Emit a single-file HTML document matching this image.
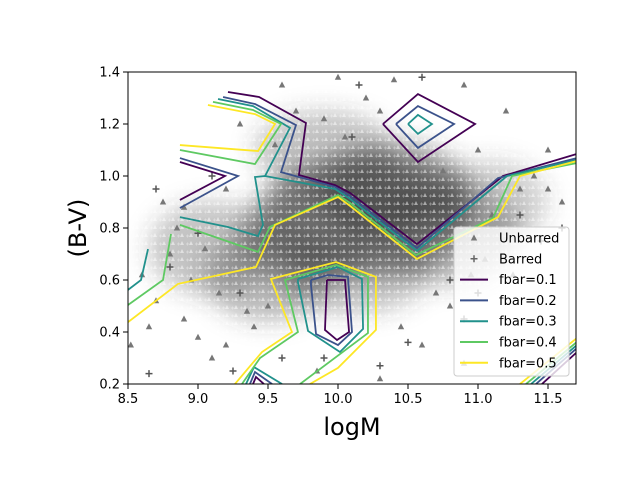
<!DOCTYPE html>
<html><head><meta charset="utf-8"><style>
body{margin:0;background:#fff;}
svg{display:block;font-family:"DejaVu Sans","Liberation Sans",sans-serif;}
</style></head><body>
<svg id="chart" width="640" height="480" viewBox="0 0 640 480" xmlns="http://www.w3.org/2000/svg">
<defs>
<filter id="blur" x="-50%" y="-50%" width="200%" height="200%"><feGaussianBlur stdDeviation="12"/></filter>
<clipPath id="plotclip"><rect x="128" y="72" width="448" height="312"/></clipPath>
<pattern id="speck" width="9" height="8" patternUnits="userSpaceOnUse">
<rect width="9" height="8" fill="#fff" fill-opacity="0"/>
<polygon points="2,1 0,5 4,5" fill="#fff" fill-opacity="0.5"/>
<path d="M6,4H9M7.5,2.5V5.5" stroke="#fff" stroke-opacity="0.35"/>
</pattern>
</defs>
<rect width="640" height="480" fill="#fff"/>
<g id="density" clip-path="url(#plotclip)" filter="url(#blur)"></g>
<rect x="128" y="72" width="448" height="312" fill="url(#speck)"/>
<g id="points" clip-path="url(#plotclip)"></g>
<g id="contours" clip-path="url(#plotclip)"></g>
<rect x="128" y="72" width="448" height="312" fill="none" stroke="#000" stroke-width="1"/>
<g id="axes"></g>
<text x="352" y="435" font-size="24" text-anchor="middle">logM</text>
<text transform="translate(86,228) rotate(-90)" font-size="24" text-anchor="middle">(B-V)</text>
<g id="legend"></g>
</svg>
<script>
const xTicks=[8.5,9.0,9.5,10.0,10.5,11.0,11.5];
const yTicks=[0.2,0.4,0.6,0.8,1.0,1.2,1.4];
const xTickLabels=["8.5","9.0","9.5","10.0","10.5","11.0","11.5"];
const yTickLabels=["0.2","0.4","0.6","0.8","1.0","1.2","1.4"];
const levels=["fbar=0.1","fbar=0.2","fbar=0.3","fbar=0.4","fbar=0.5"];
const levelColors=["#440154","#3b528b","#21918c","#5ec962","#fde725"];
const c1=[
[[9.214,1.323],[9.436,1.304],[9.771,1.204],[9.721,1.004],[9.979,0.965],[10.086,0.935],[10.564,0.738],[11.179,1.0],[11.707,1.085]],
[[8.871,1.054],[9.193,1.0],[8.871,0.908]],
[[9.921,0.6],[10.05,0.6],[10.079,0.4],[9.993,0.369],[9.907,0.408],[9.921,0.6]],
[[10.321,1.2],[10.571,1.315],[10.979,1.2],[10.571,1.054],[10.321,1.2]],
[[9.393,0.2],[9.414,0.227],[9.471,0.2]],
[[11.457,0.2],[11.707,0.323]]];
const c2=[
[[9.179,1.304],[9.407,1.277],[9.7,1.196],[9.593,1.015],[9.979,0.958],[10.086,0.923],[10.564,0.723],[11.143,0.992],[11.707,1.069]],
[[8.871,1.069],[9.286,1.0],[8.871,0.877]],
[[9.807,0.6],[9.929,0.619],[10.071,0.612],[10.1,0.4],[10.0,0.35],[9.843,0.392],[9.807,0.581],[9.807,0.6]],
[[10.414,1.2],[10.571,1.269],[10.829,1.2],[10.571,1.108],[10.414,1.2]],
[[9.371,0.2],[9.407,0.246],[9.529,0.2]],
[[11.414,0.2],[11.707,0.338]]];
const c3=[
[[9.143,1.296],[9.393,1.269],[9.657,1.185],[9.479,1.0]],
[[8.871,0.842],[9.214,0.804],[9.429,0.769],[9.464,0.812],[9.407,0.996],[9.479,1.0],[9.979,0.95],[10.086,0.912],[10.564,0.712],[11.207,1.0],[11.707,1.062]],
[[8.5,0.562],[8.593,0.6],[8.643,0.719]],
[[9.714,0.604],[10.0,0.65],[10.171,0.604],[10.179,0.412],[10.014,0.323],[9.786,0.404],[9.714,0.592],[9.714,0.604]],
[[10.5,1.2],[10.571,1.235],[10.671,1.2],[10.571,1.162],[10.5,1.2]],
[[9.343,0.2],[9.4,0.265],[9.6,0.2]],
[[11.379,0.2],[11.707,0.35]]];
const c4=[
[[8.871,1.1],[9.407,1.046],[9.593,1.2],[9.393,1.254],[9.107,1.285]],
[[8.871,0.812],[9.429,0.708],[9.514,0.804],[10.0,0.927],[10.086,0.896],[10.557,0.696],[11.107,0.838],[11.243,1.0],[11.707,1.05]],
[[8.5,0.504],[8.75,0.6],[8.807,0.777]],
[[9.314,0.2],[9.443,0.3],[9.714,0.4],[9.621,0.6],[9.986,0.658],[10.214,0.612],[10.214,0.396],[9.729,0.2]],
[[11.343,0.2],[11.707,0.362]]];
const c5=[
[[8.871,1.119],[9.429,1.096],[9.55,1.2],[9.407,1.238],[9.071,1.273]],
[[8.5,0.438],[8.857,0.585],[9.414,0.65],[9.55,0.812],[10.0,0.919],[10.086,0.885],[10.564,0.681],[11.143,0.842],[11.3,1.0],[11.707,1.058]],
[[9.264,0.2],[9.457,0.323],[9.671,0.4],[9.521,0.604],[9.986,0.669],[10.271,0.612],[10.271,0.408],[10.0,0.262],[9.8,0.2]],
[[11.3,0.2],[11.707,0.377]]];
const unbarredX=[8.52,8.6,8.7,8.75,8.8,8.9,9.0,9.1,9.2,9.3,9.6,9.7,10.0,10.2,10.4,10.9,11.2,11.5,11.3,11.6,11.4,11.0,10.8,10.6,10.9,9.2,8.65,9.85,10.3,11.1,11.5,8.95,9.05,8.85,9.4,9.5,10.7,11.25,9.9,10.05,10.3,9.55,10.75,11.05,9.35,8.9,9.15,10.45,10.95];
const unbarredY=[0.35,0.62,0.52,0.9,0.7,0.45,0.38,0.3,0.95,1.2,1.35,1.25,1.38,1.3,1.37,1.35,1.25,1.1,0.95,0.9,1.0,1.1,0.5,0.35,0.28,0.35,0.42,0.25,0.22,0.85,0.95,0.6,0.72,0.8,0.42,0.5,0.55,0.62,1.22,1.15,1.25,1.12,1.02,0.68,0.48,0.88,0.55,0.42,0.62];
const barredX=[8.65,8.7,9.25,9.9,10.3,10.5,11.0,11.3,11.6,9.1,8.8,10.6,11.45,10.15,9.6,10.9,9.3,10.1,10.8,9.0];
const barredY=[0.24,0.95,0.25,0.3,0.27,0.36,0.55,0.85,0.8,1.0,0.65,1.38,0.75,1.35,0.3,0.45,0.55,1.15,0.6,0.78];
// density blobs of the crowded scatter region: center x, center y, spread x, spread y, opacity
const blobX=[10.2,9.8,10.4,9.5,10.8,9.1,10.1,11.1,9.9,10.3];
const blobY=[0.85,0.78,0.95,0.62,0.78,0.72,0.62,0.9,1.1,0.9];
const blobW=[0.75,0.5,0.55,0.45,0.5,0.45,0.55,0.4,0.5,0.35];
const blobH=[0.24,0.2,0.18,0.18,0.2,0.18,0.15,0.16,0.15,0.12];
const blobA=[0.55,0.4,0.45,0.35,0.35,0.3,0.3,0.25,0.3,0.4];

const NS="http://www.w3.org/2000/svg";
const X=v=>128+(v-8.5)*140;
const Y=v=>384-(v-0.2)*260;
function mk(tag,parent){const e=document.createElementNS(NS,tag);parent.appendChild(e);return e;}

const dens=document.getElementById('density');
blobX.forEach((bx,i)=>{
  const e=mk('ellipse',dens);
  
  
  e.setAttribute('cx',X(bx));e.setAttribute('cy',Y(blobY[i]));
  e.setAttribute('rx',blobW[i]*140);e.setAttribute('ry',blobH[i]*260);
  e.setAttribute('fill','#3a3a3a');e.setAttribute('fill-opacity',blobA[i]);
});

const pts=document.getElementById('points');
unbarredX.forEach((px,i)=>{
  const x=X(px),y=Y(unbarredY[i]);
  const t=mk('polygon',pts);
  
  
  t.setAttribute('points',`${x},${y-3.5} ${x-3.2},${y+2.5} ${x+3.2},${y+2.5}`);
  t.setAttribute('fill','#777');
});
barredX.forEach((px,i)=>{
  const x=X(px),y=Y(barredY[i]);
  const p=mk('path',pts);
  
  
  p.setAttribute('d',`M${x-3.5},${y}H${x+3.5}M${x},${y-3.5}V${y+3.5}`);
  p.setAttribute('stroke','#555');p.setAttribute('stroke-width','1.5');
});

const cg=document.getElementById('contours');
[c1,c2,c3,c4,c5].forEach((segs,li)=>{
  segs.forEach(seg=>{
    const pl=mk('polyline',cg);
    
    
    pl.setAttribute('points',seg.map(p=>X(p[0])+','+Y(p[1])).join(' '));
    pl.setAttribute('fill','none');pl.setAttribute('stroke',levelColors[li]);
    pl.setAttribute('stroke-width','1.8');pl.setAttribute('stroke-linejoin','miter');
  });
});

const ax=document.getElementById('axes');
xTicks.forEach((v,i)=>{
  const l=mk('line',ax);
  
  
  l.setAttribute('x1',X(v));l.setAttribute('x2',X(v));l.setAttribute('y1',384);l.setAttribute('y2',389);l.setAttribute('stroke','#000');
  const t=mk('text',ax);
  
  
  t.setAttribute('x',X(v));t.setAttribute('y',403);t.setAttribute('font-size','13');t.setAttribute('text-anchor','middle');
  t.textContent=xTickLabels[i];
});
yTicks.forEach((v,i)=>{
  const l=mk('line',ax);
  
  
  l.setAttribute('x1',123);l.setAttribute('x2',128);l.setAttribute('y1',Y(v));l.setAttribute('y2',Y(v));l.setAttribute('stroke','#000');
  const t=mk('text',ax);
  
  
  t.setAttribute('x',120);t.setAttribute('y',Y(v)+4.5);t.setAttribute('font-size','13');t.setAttribute('text-anchor','end');
  t.textContent=yTickLabels[i];
});

const lg=document.getElementById('legend');
const box=mk('rect',lg);


box.setAttribute('x',454);box.setAttribute('y',227);box.setAttribute('width',115);box.setAttribute('height',149);box.setAttribute('rx',3);
box.setAttribute('fill','#fff');box.setAttribute('fill-opacity','0.8');box.setAttribute('stroke','#ccc');
const labels=["Unbarred","Barred"].concat(levels);
labels.forEach((lab,i)=>{
  const y=238+i*20.8;
  if(i===0){
    const t=mk('polygon',lg);
    
    
    t.setAttribute('points',`474,${y-3.5} 470.8,${y+2.5} 477.2,${y+2.5}`);t.setAttribute('fill','#777');
  } else if(i===1){
    const p=mk('path',lg);
    
    
    p.setAttribute('d',`M470.5,${y}H477.5M474,${y-3.5}V${y+3.5}`);p.setAttribute('stroke','#666');p.setAttribute('stroke-width','1.5');
  } else {
    const l=mk('line',lg);
    
    
    l.setAttribute('x1',460);l.setAttribute('x2',488);l.setAttribute('y1',y);l.setAttribute('y2',y);
    l.setAttribute('stroke',levelColors[i-2]);l.setAttribute('stroke-width','2');
  }
  const t=mk('text',lg);
  
  
  t.setAttribute('x',499);t.setAttribute('y',y+4.5);t.setAttribute('font-size','13');
  t.textContent=lab;
});
</script>
</body></html>
